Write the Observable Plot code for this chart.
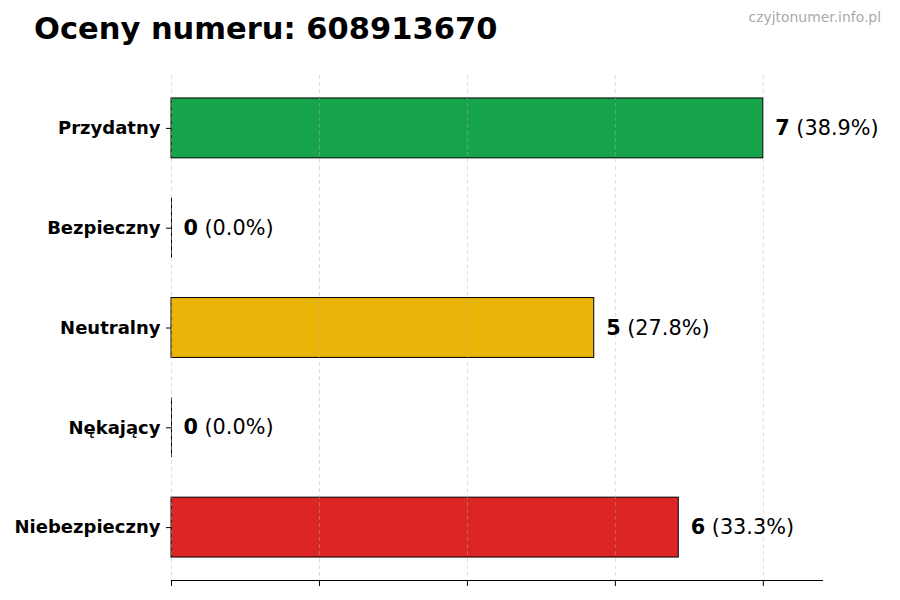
<!DOCTYPE html>
<html>
<head>
<meta charset="utf-8">
<script src="https://cdn.jsdelivr.net/npm/d3@7"></script>
<script src="https://cdn.jsdelivr.net/npm/@observablehq/plot@0.6"></script>
<style>
  html, body { margin: 0; padding: 0; background: #fff; }
  #wrap { position: relative; width: 900px; height: 600px; font-family: "DejaVu Sans", sans-serif; }
  #title { position: absolute; left: 34px; top: 11px; font-size: 30.5px; font-weight: bold; color: #000; white-space: nowrap; }
  #mark { position: absolute; right: 19px; top: 9px; font-size: 13.9px; color: #aaaaaa; white-space: nowrap; }
  #chart { position: absolute; left: 0; top: 0; }
</style>
</head>
<body>
<div id="wrap">
  <div id="chart"></div>
  <div id="title">Oceny numeru: 608913670</div>
  <div id="mark">czyjtonumer.info.pl</div>
</div>
<script>
const categories = ["Przydatny", "Bezpieczny", "Neutralny", "Nękający", "Niebezpieczny"];
const counts = [7, 0, 5, 0, 6];
const colors = ["#16a34a", "#3b82f6", "#eab308", "#f97316", "#dc2626"];
const xTicks = [0, 1.75, 3.5, 5.25, 7];

const total = d3.sum(counts);
const data = categories.map((c, i) => ({
  cat: c,
  n: counts[i],
  color: colors[i],
  pct: "(" + (100 * counts[i] / total).toFixed(1) + "%)"
}));
const zeros = data.filter(d => d.n === 0);
const xMax = d3.max(counts) * 1.1;

const chart = Plot.plot({
  width: 900,
  height: 600,
  marginTop: 75,
  marginBottom: 20,
  marginLeft: 171,
  marginRight: 78,
  style: { fontFamily: "DejaVu Sans, sans-serif", background: "transparent" },
  x: { domain: [0, xMax], range: [171, 822], label: null },
  y: { domain: categories, paddingInner: 0.4, paddingOuter: 0.23, align: 0.5, round: false, label: null },
  marks: [
    Plot.barX(data, {
      x: "n", y: "cat", fill: "color", stroke: "#000", strokeWidth: 1
    }),
    Plot.tickX(zeros, { x: "n", y: "cat", stroke: "#000", strokeWidth: 1 }),
    Plot.gridX(xTicks, { stroke: "#b0b0b0", strokeOpacity: 0.55, strokeDasharray: "4,3", strokeWidth: 0.8 }),
    Plot.frame({ anchor: "bottom", stroke: "#000", strokeWidth: 1.2 }),
    Plot.axisX(xTicks, { tickFormat: () => "", tickSize: 6, stroke: "#000", strokeWidth: 1, label: null }),
    Plot.axisY({ tickSize: 5, tickPadding: 6, fontSize: 18, fontWeight: "bold", fill: "#000", stroke: "#000", label: null }),
    Plot.text(data, {
      x: "n", y: "cat", text: d => String(d.n), textAnchor: "start", dx: 12,
      fontSize: 20.8, fontWeight: "bold", fill: "#000"
    }),
    Plot.text(data, {
      x: "n", y: "cat", text: "pct", textAnchor: "start", dx: 33,
      fontSize: 20.8, fill: "#000"
    })
  ]
});
document.getElementById("chart").appendChild(chart);
</script>
</body>
</html>
